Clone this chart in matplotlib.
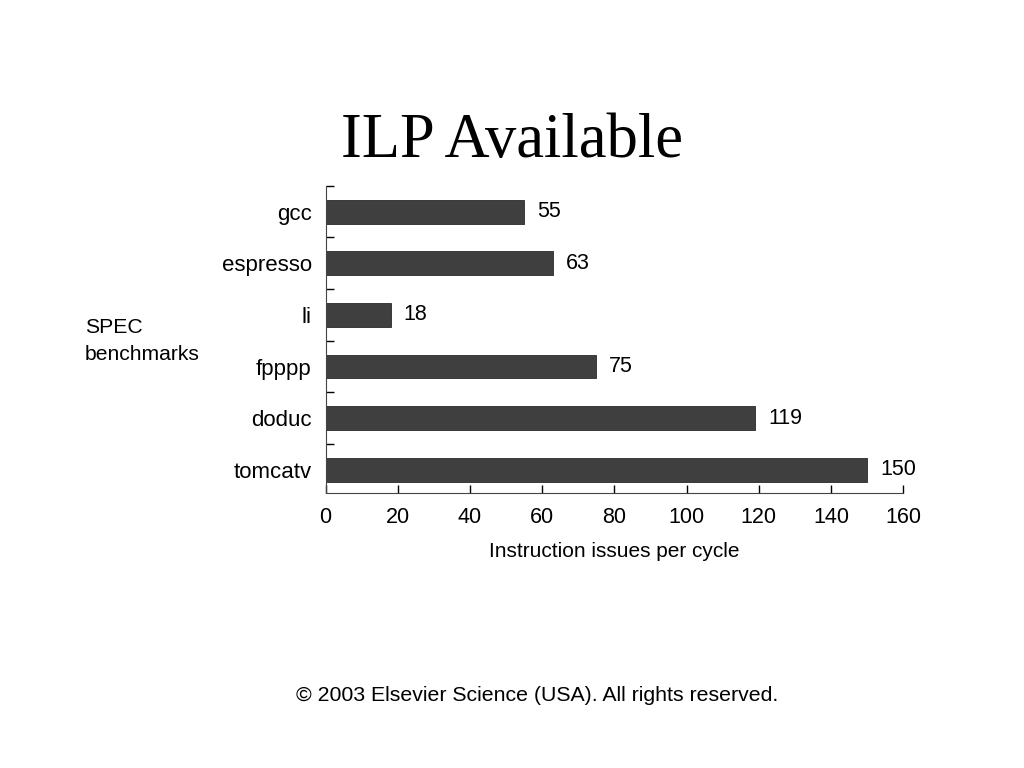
import numpy as np
import matplotlib.pyplot as plt

benchmarks = ['gcc', 'espresso', 'li', 'fpppp', 'doduc', 'tomcatv']
issues = [55, 63, 18, 75, 119, 150]
xticks = [0, 20, 40, 60, 80, 100, 120, 140, 160]

plt.rcParams['font.family'] = ['Liberation Sans', 'DejaVu Sans']

fig = plt.figure(figsize=(10.24, 7.68), dpi=100)
fig.patch.set_facecolor('white')

#title in serif like the slide
fig.text(0.5, 0.815, 'ILP Available', ha='center', va='center',
         family='Liberation Serif', fontsize=45)

ax = fig.add_axes([0.318, 0.358, 0.564, 0.400])
pos = np.arange(len(benchmarks))
ax.barh(pos, issues, height=0.46, color='#3f3f3f', edgecolor='#2a2a2a', linewidth=0.6)

#value labels to the right of each bar
for p, v in zip(pos, issues):
    ax.text(v + 3.6, p, str(v), va='center', ha='left', fontsize=15.5)

ax.set_xlim(0, 160)
ax.set_ylim(5.45, -0.5)
ax.set_xticks(xticks)
ax.set_xticklabels([str(t) for t in xticks], fontsize=15.5)
ax.tick_params(axis='x', direction='in', length=6, width=1, pad=10)

#boundary ticks between bars, category labels at bar centres
ax.set_yticks(pos - 0.5)
ax.set_yticklabels([''] * len(pos))
ax.tick_params(axis='y', direction='in', length=6, width=1)
ax.set_yticks(pos, minor=True)
ax.set_yticklabels(benchmarks, minor=True, fontsize=16)
ax.tick_params(axis='y', which='minor', length=0, pad=10)

ax.spines['top'].set_visible(False)
ax.spines['right'].set_visible(False)
ax.spines['left'].set_color('#444444')
ax.spines['bottom'].set_color('#444444')

ax.set_xlabel('Instruction issues per cycle', fontsize=15, labelpad=10)

fig.text(0.083, 0.556, 'SPEC\nbenchmarks', ha='left', va='center',
         fontsize=15.2, linespacing=1.55)

fig.text(0.525, 0.094, '\u00a9 2003 Elsevier Science (USA). All rights reserved.',
         ha='center', va='center', fontsize=15.3)

fig.savefig('out.png', dpi=100)
